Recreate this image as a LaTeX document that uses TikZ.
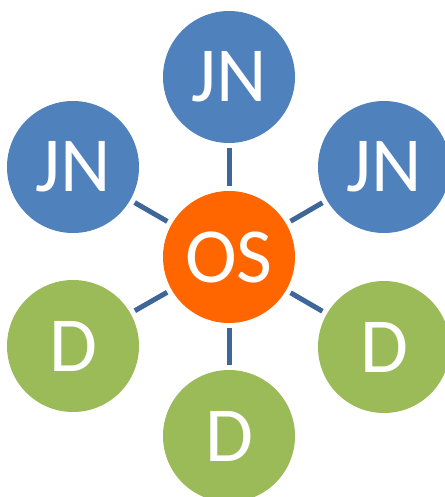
\documentclass[tikz,border=0pt]{standalone}
\usepackage{fontspec}
\setmainfont{Carlito}

\definecolor{jnblue}{RGB}{79,129,189}
\definecolor{osorange}{RGB}{255,102,0}
\definecolor{dgreen}{RGB}{155,187,89}
\definecolor{linkblue}{RGB}{62,102,152}

\tikzstyle{hub} = [circle, minimum size=132pt, inner sep=0pt, fill=osorange, text=white, font=\fontsize{78}{78}\selectfont]
\tikzstyle{journal} = [circle, minimum size=132pt, inner sep=0pt, fill=jnblue, text=white, font=\fontsize{78}{78}\selectfont]
\tikzstyle{disk} = [circle, minimum size=132pt, inner sep=0pt, fill=dgreen, text=white, font=\fontsize{78}{78}\selectfont]
\tikzstyle{link} = [draw=linkblue, line width=5pt, shorten >=5pt, shorten <=5pt]

\begin{document}
\begin{tikzpicture}[x=1pt, y=-1pt]
        \useasboundingbox (0,0) rectangle (444,497);

        % Nodes
        \node (os) [hub] at (229,257) {OS};
        \node (jnTop) [journal] at (229,77) {JN};
        \node (jnLeft) [journal] at (73,167) {JN};
        \node (jnRight) [journal] at (384,167) {JN};
        \node (dLeft) [disk] at (73,346) {D};
        \node (dRight) [disk] at (384,347) {D};
        \node (dBottom) [disk] at (229,436) {D};

        % Lines
        \draw [link] (os) -- (jnTop);
        \draw [link] (os) -- (jnLeft);
        \draw [link] (os) -- (jnRight);
        \draw [link] (os) -- (dLeft);
        \draw [link] (os) -- (dRight);
        \draw [link] (os) -- (dBottom);
    \end{tikzpicture}
\end{document}
